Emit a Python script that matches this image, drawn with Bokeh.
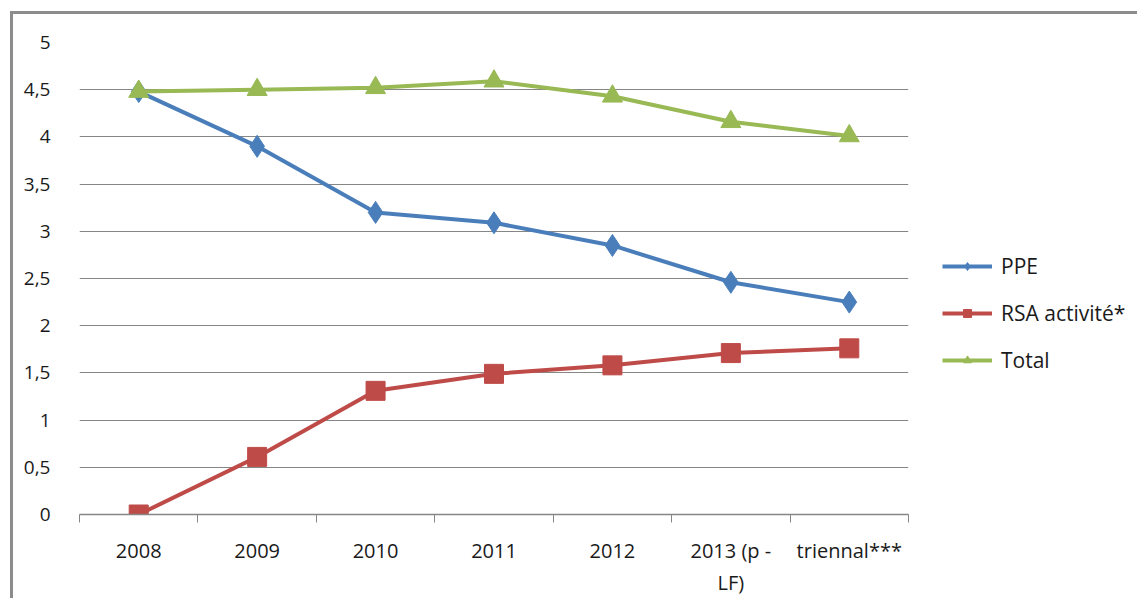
from bokeh.plotting import figure
from bokeh.models import FixedTicker, CustomJSTickFormatter, Legend, LegendItem, Range1d
from bokeh.embed import file_html
from bokeh.resources import INLINE

categories = ["2008", "2009", "2010", "2011", "2012", "2013 (p -\nLF)", "triennal***"]
ppe = [4.48, 3.90, 3.20, 3.09, 2.85, 2.46, 2.25]
rsa = [0.0, 0.61, 1.31, 1.49, 1.58, 1.71, 1.76]
total = [4.48, 4.50, 4.52, 4.59, 4.43, 4.16, 4.01]
y_ticks = [0, 0.5, 1, 1.5, 2, 2.5, 3, 3.5, 4, 4.5, 5]

FONT = "Open Sans"
x = list(range(len(categories)))

p = figure(frame_width=829, frame_height=472, output_backend="svg", toolbar_location=None,
           x_range=Range1d(-0.5, len(categories) - 0.5), y_range=Range1d(0, 5),
           min_border_left=66, min_border_right=0, min_border_top=28, min_border_bottom=75)
p.outline_line_color = None
p.background_fill_color = "white"
p.border_fill_color = "white"
p.styles = {"border-left": "3px solid #8c8c8c", "border-top": "3px solid #8c8c8c",
            "margin-left": "10px", "margin-top": "11px"}

# axes
p.yaxis.ticker = FixedTicker(ticks=y_ticks)
p.yaxis.formatter = CustomJSTickFormatter(code="return tick.toString().replace('.', ',')")
p.yaxis.axis_line_color = None
p.yaxis.major_tick_line_color = None
p.yaxis.minor_tick_line_color = None
p.yaxis.major_label_text_font = FONT
p.yaxis.major_label_text_font_size = "19px"
p.yaxis.major_label_text_color = "#1a1a1a"
p.yaxis.major_label_standoff = 23

p.xaxis.ticker = FixedTicker(ticks=x, minor_ticks=[i - 0.5 for i in range(len(categories) + 1)])
p.xaxis.major_label_overrides = {i: c for i, c in zip(x, categories)}
p.xaxis.axis_line_color = "#868686"
p.xaxis.axis_line_width = 1.5
p.xaxis.major_tick_line_color = None
p.xaxis.minor_tick_line_color = "#868686"
p.xaxis.minor_tick_out = 8
p.xaxis.minor_tick_in = 0
p.xaxis.major_label_text_font = FONT
p.xaxis.major_label_text_font_size = "20px"
p.xaxis.major_label_text_color = "#1a1a1a"
p.xaxis.major_label_standoff = 14

p.xgrid.grid_line_color = None
p.ygrid.ticker = FixedTicker(ticks=y_ticks)
p.ygrid.grid_line_color = "#868686"
p.ygrid.grid_line_width = 1

blue = "#4a7ebb"
red = "#be4b48"
green = "#98b954"

l1 = p.line(x, ppe, line_color=blue, line_width=4)
m1 = p.scatter(x, ppe, marker="diamond", size=22, fill_color=blue, line_color=blue)
l2 = p.line(x, rsa, line_color=red, line_width=4)
m2 = p.scatter(x, rsa, marker="square", size=19, fill_color=red, line_color=red)
l3 = p.line(x, total, line_color=green, line_width=4)
m3 = p.scatter(x, total, marker="triangle", size=20, fill_color=green, line_color=green)

legend = Legend(items=[
    LegendItem(label="PPE", renderers=[l1, m1]),
    LegendItem(label="RSA activité*", renderers=[l2, m2]),
    LegendItem(label="Total", renderers=[l3, m3]),
], location=(34, 140))
legend.border_line_color = None
legend.background_fill_alpha = 0
legend.label_text_font = FONT
legend.label_text_font_size = "21px"
legend.label_text_color = "#1a1a1a"
legend.glyph_width = 50
legend.glyph_height = 20
legend.label_height = 20
legend.spacing = 19
legend.padding = 0
legend.margin = 0
legend.label_standoff = 9
p.add_layout(legend, "right")

open("out.html", "w").write(file_html(p, INLINE))
